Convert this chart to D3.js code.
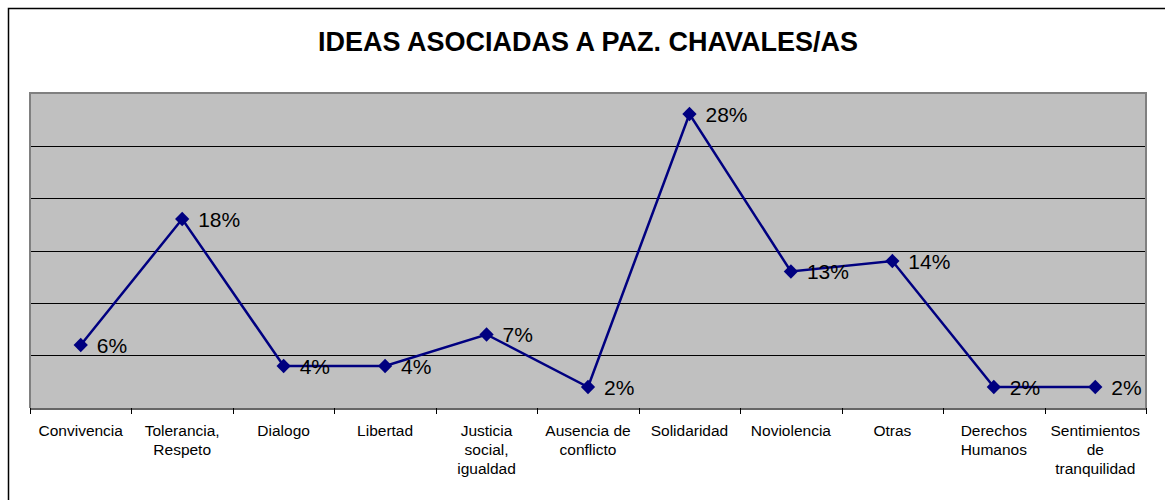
<!DOCTYPE html>
<html>
<head>
<meta charset="utf-8">
<script src="https://cdn.jsdelivr.net/npm/d3@7"></script>
<style>
  html, body { margin: 0; padding: 0; background: #fff; }
  svg { display: block; }
  text { font-family: Arial, "Liberation Sans", sans-serif; }
</style>
</head>
<body>
<script>
const categories = ["Convivencia", "Tolerancia,\nRespeto", "Dialogo", "Libertad", "Justicia\nsocial,\nigualdad", "Ausencia de\nconflicto", "Solidaridad", "Noviolencia", "Otras", "Derechos\nHumanos", "Sentimientos\nde\ntranquilidad"];
const values = [0.06, 0.18, 0.04, 0.04, 0.07, 0.02, 0.28, 0.13, 0.14, 0.02, 0.02];
const valueLabels = ["6%", "18%", "4%", "4%", "7%", "2%", "28%", "13%", "14%", "2%", "2%"];
const gridTicks = [0, 0.05, 0.10, 0.15, 0.20, 0.25, 0.30];
const title = "IDEAS ASOCIADAS A PAZ. CHAVALES/AS";

const W = 1165, H = 500;
const plot = { left: 30, right: 1146, top: 93, bottom: 408 };

const svg = d3.select("body").append("svg").attr("width", W).attr("height", H);

// outer chart border (extends beyond right/bottom edges)
svg.append("rect").attr("x", 8.5).attr("y", 8.5).attr("width", W + 20).attr("height", H + 20)
  .attr("fill", "#fff").attr("stroke", "#000").attr("stroke-width", 1.5);

svg.append("text").attr("x", 588).attr("y", 51).attr("text-anchor", "middle")
  .attr("font-size", "27px").attr("font-weight", "bold").text(title);

const x = d3.scaleBand().domain(categories).range([plot.left, plot.right]);
const y = d3.scaleLinear().domain([0, 0.30]).range([plot.bottom, plot.top]);

// plot area
svg.append("rect").attr("x", plot.left).attr("y", plot.top)
  .attr("width", plot.right - plot.left).attr("height", plot.bottom - plot.top)
  .attr("fill", "#C0C0C0");

// gridlines
svg.append("g").selectAll("line").data(gridTicks.slice(1, -1)).join("line")
  .attr("x1", plot.left).attr("x2", plot.right)
  .attr("y1", d => Math.round(y(d)) + 0.5).attr("y2", d => Math.round(y(d)) + 0.5)
  .attr("stroke", "#000").attr("stroke-width", 1);

// plot border (top, left, right)
svg.append("path")
  .attr("d", `M${plot.left},${plot.bottom} V${plot.top} H${plot.right} V${plot.bottom}`)
  .attr("fill", "none").attr("stroke", "#808080").attr("stroke-width", 2);

// x axis
const xAxis = d3.axisBottom(x).tickSize(0).tickFormat("");
const gx = svg.append("g").attr("transform", `translate(0,${plot.bottom + 0.5})`).call(xAxis);
gx.select(".domain").attr("stroke", "#333").attr("stroke-width", 1.5);
const bounds = categories.map(c => x(c)).concat([plot.right]);
svg.append("g").selectAll("line").data(bounds).join("line")
  .attr("x1", d => Math.round(d) + 0.5).attr("x2", d => Math.round(d) + 0.5)
  .attr("y1", plot.bottom).attr("y2", plot.bottom + 6)
  .attr("stroke", "#000").attr("stroke-width", 1);

// category labels
const labG = svg.append("g");
categories.forEach(c => {
  const lines = c.split("\n");
  const t = labG.append("text").attr("text-anchor", "middle").attr("font-size", "15.5px")
    .attr("x", x(c) + x.bandwidth() / 2).attr("y", 436);
  lines.forEach((ln, i) => {
    t.append("tspan").attr("x", x(c) + x.bandwidth() / 2).attr("dy", i === 0 ? 0 : 19).text(ln);
  });
});

// line
const cx = (d, i) => x(categories[i]) + x.bandwidth() / 2;
const line = d3.line().x((d, i) => cx(d, i)).y(d => y(d));
svg.append("path").datum(values).attr("d", line)
  .attr("fill", "none").attr("stroke", "#000080").attr("stroke-width", 2.5);

// markers
const diamond = d3.symbol().type(d3.symbolDiamond2).size(130);
svg.append("g").selectAll("path").data(values).join("path")
  .attr("d", diamond)
  .attr("transform", (d, i) => `translate(${cx(d, i)},${y(d)})`)
  .attr("fill", "#000080");

// value labels
svg.append("g").selectAll("text").data(values).join("text")
  .attr("x", (d, i) => cx(d, i) + 16).attr("y", d => y(d) + 7.5)
  .attr("font-size", "21px").attr("fill", "#000")
  .text((d, i) => valueLabels[i]);
</script>
</body>
</html>
